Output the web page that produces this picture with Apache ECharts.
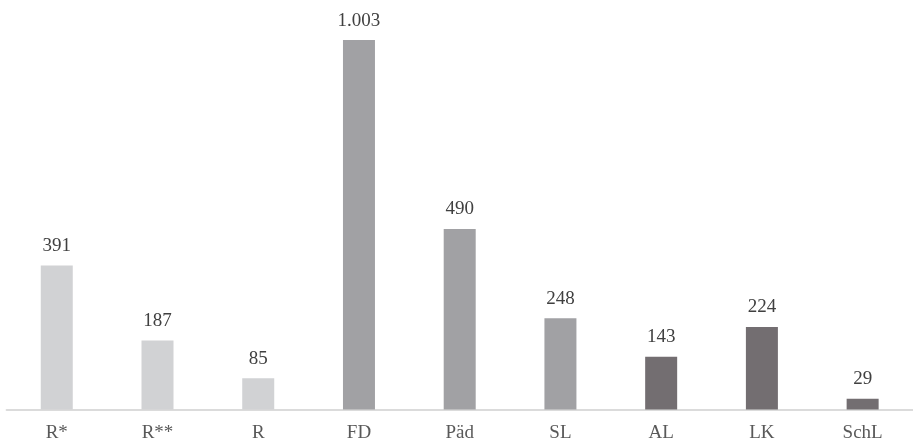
<!DOCTYPE html>
<html><head><meta charset="utf-8">
<script src="https://cdn.jsdelivr.net/npm/echarts@6/dist/echarts.min.js"></script>
<style>html,body{margin:0;padding:0;background:#fff}#c{width:913px;height:443px}</style>
</head><body><div id="c"></div>
<script>
const categories = ['R*','R**','R','FD','Päd','SL','AL','LK','SchL'];
const values = [391,187,85,1003,490,248,143,224,29];
const groupColors = ['#d1d2d4','#d1d2d4','#d1d2d4','#a1a1a4','#a1a1a4','#a1a1a4','#736e71','#736e71','#736e71'];
const fmt = v => String(v).replace(/\B(?=(\d{3})+(?!\d))/g, '.');
const chart = echarts.init(document.getElementById('c'));
chart.setOption({
  animation:false,
  grid:{left:6.4, width:911, top:4.3, bottom:33.5, containLabel:false},
  xAxis:{type:'category', data:categories,
    axisLine:{lineStyle:{color:'#d0d0d0', width:1.5}}, axisTick:{show:false},
    axisLabel:{color:'#595959', fontFamily:'Liberation Serif', fontSize:19, margin:14}},
  yAxis:{type:'value', min:0, max:1100, show:false, splitLine:{show:false}},
  series:[{type:'bar', barWidth:32,
    data: values.map((v,i)=>({value:v, itemStyle:{color:groupColors[i]}})),
    label:{show:true, position:'top', distance:10, color:'#404040', fontFamily:'Liberation Serif', fontSize:19,
      formatter:p=>fmt(p.value)}}]
});
</script></body></html>
